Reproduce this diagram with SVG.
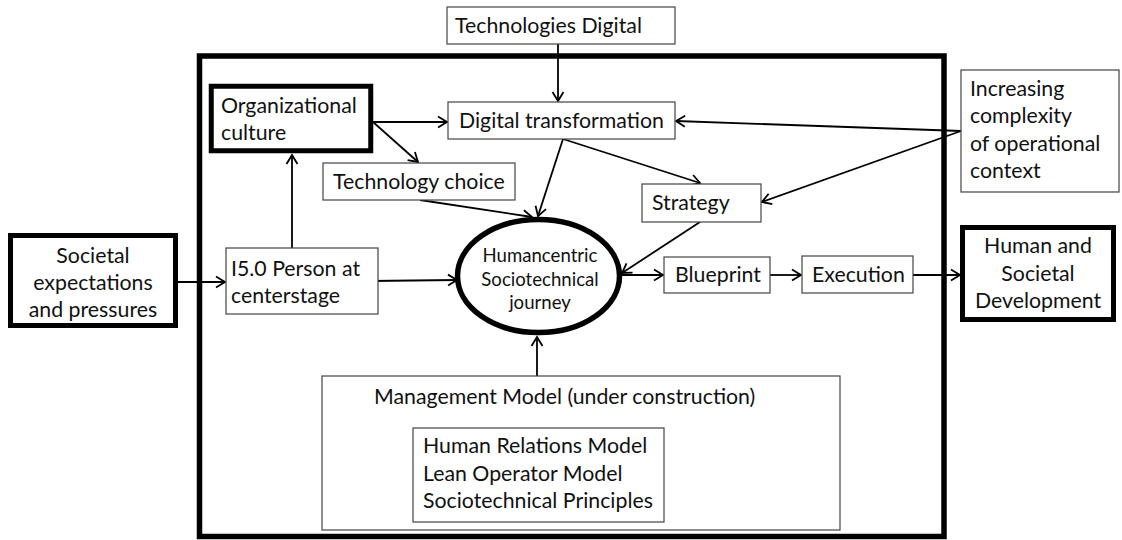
<svg xmlns="http://www.w3.org/2000/svg" width="1122" height="540" viewBox="0 0 1122 540">
<style>
  text { font-family: Lato, "Liberation Sans", sans-serif; font-size: 21.3px; fill: #111; }
  .box { fill: #fff; stroke: #444; stroke-width: 1.2; }
  .thick { fill: #fff; stroke: #000; stroke-width: 5; }
  .conn { fill: none; stroke: #000; stroke-width: 1.8; marker-end: url(#arr); }
  .mid { text-anchor: middle; }
  .small { font-size: 18.6px; }
</style>
<defs>
  <marker id="arr" markerUnits="userSpaceOnUse" markerWidth="14" markerHeight="14" refX="11" refY="7" orient="auto" viewBox="0 0 14 14">
    <path d="M2,1.5 L11,7 L2,12.5" fill="none" stroke="#000" stroke-width="1.8"/>
  </marker>
</defs>
<rect x="0" y="0" width="1122" height="540" fill="#fff"/>

<g id="outer-frame">
  <rect x="199.5" y="56" width="744.5" height="480.5" fill="none" stroke="#000" stroke-width="5.5"/>
</g>

<g id="connectors">
  <path class="conn" d="M558,44 L558,101"/>
  <path class="conn" d="M373,122 L447,122"/>
  <path class="conn" d="M373,122 L418,162"/>
  <path class="conn" d="M563,139 L538,216"/>
  <path class="conn" d="M563,139 L700,183"/>
  <path class="conn" d="M420,200 L532,217"/>
  <path class="conn" d="M961,131 L676,121"/>
  <path class="conn" d="M961,131 L762,202"/>
  <path class="conn" d="M292,248 L292,155"/>
  <path class="conn" d="M178,282 L225,282"/>
  <path class="conn" d="M370,281 L457,280"/>
  <path class="conn" d="M700,222 L622,273"/>
  <path class="conn" d="M622,275 L663,275"/>
  <path class="conn" d="M770,275 L801,275"/>
  <path class="conn" d="M913,275 L960,275"/>
  <path class="conn" d="M537,376 L537,337"/>
</g>

<g id="technologies-digital">
  <rect class="box" x="447" y="7" width="228" height="37"/>
  <text x="455" y="33">Technologies Digital</text>
</g>

<g id="digital-transformation">
  <rect class="box" x="448" y="102" width="227" height="37"/>
  <text x="459" y="128">Digital transformation</text>
</g>

<g id="organizational-culture">
  <rect class="thick" x="211.25" y="86.25" width="159.5" height="64.5" stroke-width="4.5"/>
  <text x="221" y="113">Organizational</text>
  <text x="221" y="140">culture</text>
</g>

<g id="technology-choice">
  <rect class="box" x="323" y="163" width="192" height="37"/>
  <text x="333" y="189">Technology choice</text>
</g>

<g id="strategy">
  <rect class="box" x="642" y="184" width="119" height="38"/>
  <text x="652" y="210">Strategy</text>
</g>

<g id="increasing-complexity">
  <rect class="box" x="961" y="70" width="158" height="122"/>
  <text x="970" y="96">Increasing</text>
  <text x="970" y="123">complexity</text>
  <text x="970" y="151">of operational</text>
  <text x="970" y="178">context</text>
</g>

<g id="societal-expectations">
  <rect class="thick" x="10.5" y="235.5" width="165" height="90"/>
  <text class="mid" x="93" y="263">Societal</text>
  <text class="mid" x="93" y="290">expectations</text>
  <text class="mid" x="93" y="317">and pressures</text>
</g>

<g id="i50-person">
  <rect class="box" x="226" y="248" width="152" height="66"/>
  <text x="231" y="276">I5.0 Person at</text>
  <text x="231" y="303">centerstage</text>
</g>

<g id="humancentric-journey">
  <ellipse cx="538.5" cy="276" rx="81" ry="56.5" fill="#fff" stroke="#000" stroke-width="5.5"/>
  <text class="mid small" x="540" y="262">Humancentric</text>
  <text class="mid small" x="540" y="286">Sociotechnical</text>
  <text class="mid small" x="540" y="309">journey</text>
</g>

<g id="blueprint">
  <rect class="box" x="664" y="257" width="106" height="36"/>
  <text x="675" y="282">Blueprint</text>
</g>

<g id="execution">
  <rect class="box" x="802" y="256" width="111" height="37"/>
  <text x="812" y="282">Execution</text>
</g>

<g id="human-societal-development">
  <rect class="thick" x="962.5" y="227.5" width="151" height="92"/>
  <text class="mid" x="1038" y="253">Human and</text>
  <text class="mid" x="1038" y="281">Societal</text>
  <text class="mid" x="1038" y="308">Development</text>
</g>

<g id="management-model">
  <rect class="box" x="322" y="376" width="518" height="154"/>
  <text x="374" y="404">Management Model (under construction)</text>
  <rect class="box" x="413" y="428" width="251" height="94"/>
  <text x="423" y="453">Human Relations Model</text>
  <text x="423" y="481">Lean Operator Model</text>
  <text x="423" y="508">Sociotechnical Principles</text>
</g>
</svg>
